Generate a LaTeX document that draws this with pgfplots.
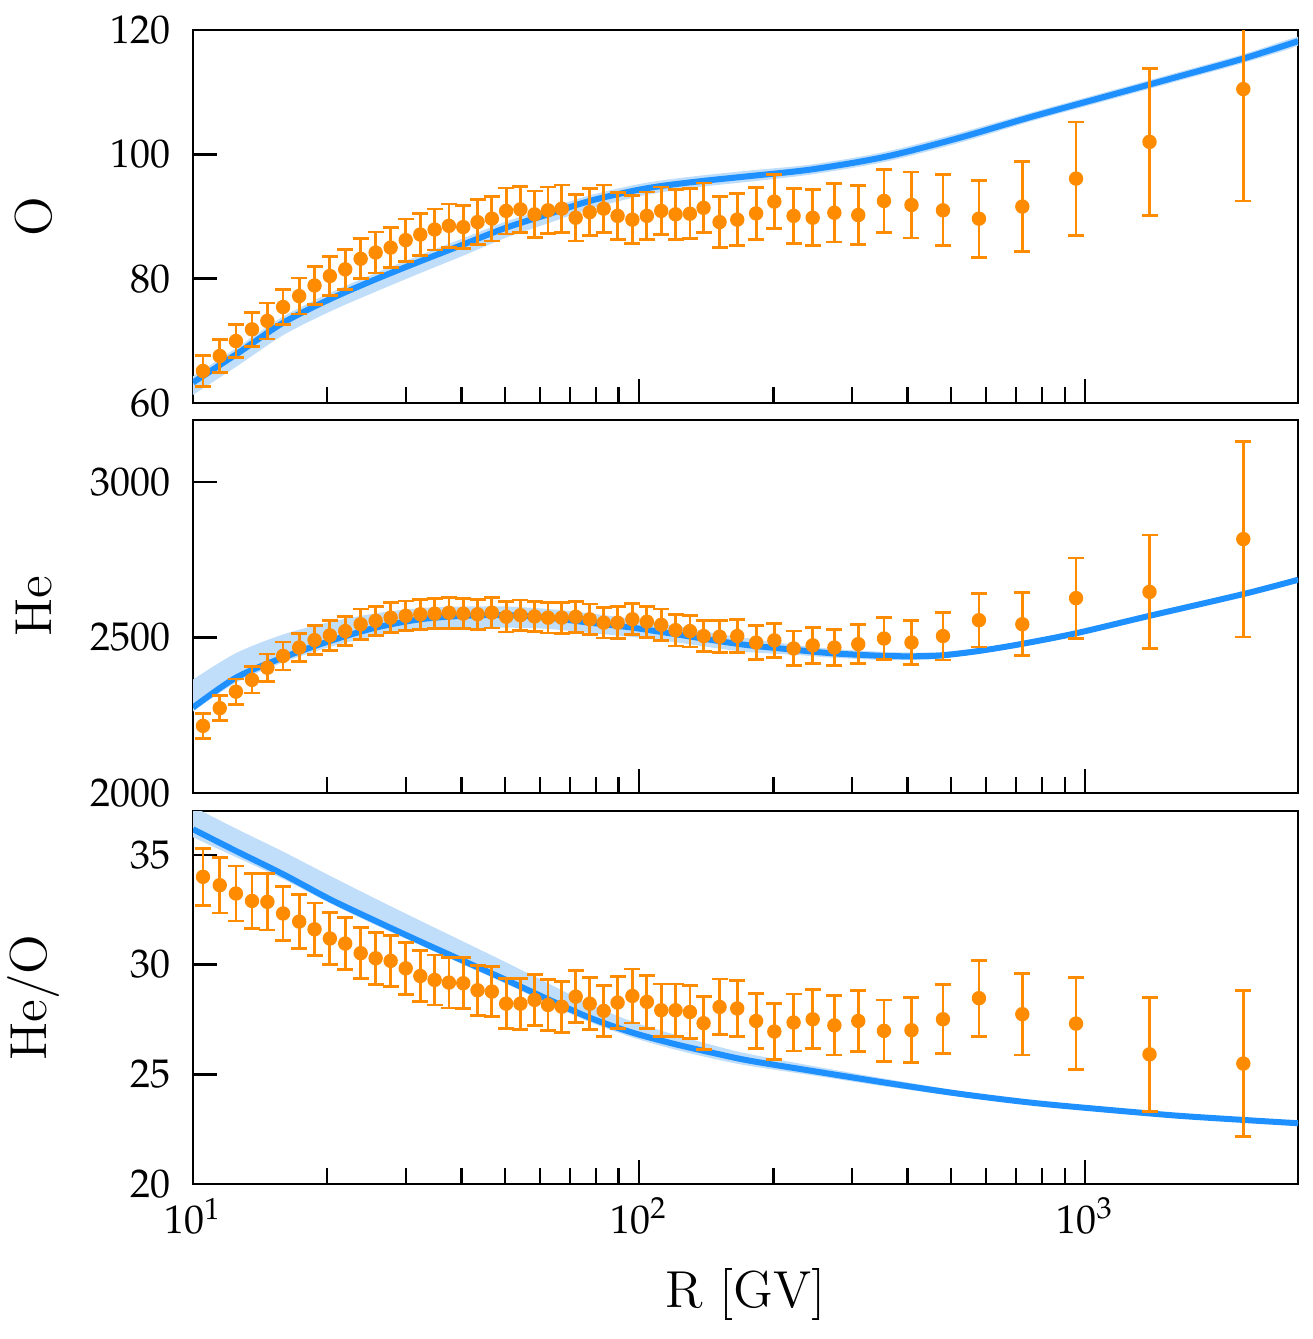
\documentclass[border=0pt]{standalone}
\usepackage{mathpazo}
\usepackage{pgfplots}
\usepackage{pgfplotstable}
\pgfplotsset{compat=1.18}
\definecolor{dblue}{RGB}{30,144,255}
\definecolor{dorange}{RGB}{255,140,0}
\definecolor{bandc}{RGB}{192,222,250}

\pgfplotstableread{
R O eO He eHe HeO eHeO
10.53 65.15 2.5 2216 40 34.00 1.30
11.48 67.56 2.6 2273 41 33.62 1.27
12.48 69.97 2.7 2326 41 33.24 1.25
13.56 71.85 2.7 2364 42 32.90 1.25
14.68 73.2 2.9 2403 44 32.86 1.28
15.92 75.44 2.8 2441 45 32.33 1.23
17.30 77.2 2.9 2468 46 31.96 1.22
18.73 78.9 3.0 2492 47 31.61 1.20
20.27 80.43 3.2 2507 48 31.19 1.20
21.94 81.5 3.2 2521 47 30.96 1.18
23.76 83.2 3.2 2543 49 30.52 1.17
25.67 84.2 3.3 2554 47 30.29 1.18
27.74 85.0 3.2 2564 48 30.17 1.17
29.98 86.2 3.4 2570 48 29.83 1.18
32.33 87.1 3.4 2575 48 29.48 1.16
34.81 87.9 3.3 2577 48 29.30 1.14
37.48 88.5 3.5 2580 50 29.18 1.16
40.35 88.3 3.5 2577 48 29.15 1.16
43.44 89.1 3.6 2575 48 28.83 1.14
46.77 89.65 3.6 2580 49 28.77 1.14
50.35 90.9 3.7 2567 49 28.22 1.14
54.2 91.15 3.7 2572 49 28.22 1.16
58.3 90.35 3.75 2568 49 28.39 1.16
62.5 91.0 3.75 2564 49 28.16 1.16
67.1 91.26 3.8 2564 50 28.08 1.16
72.1 89.8 3.75 2567 50 28.54 1.19
77.5 90.7 3.75 2559 49 28.22 1.19
83.3 91.26 3.8 2548 49 27.89 1.15
89.5 90.1 3.8 2548 51 28.27 1.18
96.6 89.5 3.85 2559 50 28.57 1.23
104.1 90.1 3.85 2551 50 28.30 1.22
112.1 90.9 3.85 2541 51 27.92 1.20
120.7 90.35 4.0 2524 51 27.92 1.20
130.0 90.45 4.0 2521 51 27.84 1.22
139.5 91.4 4.0 2505 50 27.33 1.20
151.5 89.1 4.1 2503 51 28.07 1.27
166 89.5 4.15 2505 52 28.0 1.28
183 90.5 4.2 2484 54 27.43 1.27
201 92.4 4.3 2491 54 26.95 1.27
222 90.1 4.4 2465 56 27.36 1.30
245 89.8 4.5 2475 58 27.51 1.34
274 90.6 4.7 2468 59 27.23 1.35
310 90.24 4.8 2479 62 27.43 1.39
354 92.5 5.1 2497 67 26.98 1.41
408 91.85 5.3 2484 70 27.01 1.48
480 91.0 5.7 2505 77 27.51 1.57
578 89.65 6.2 2556 86 28.47 1.73
723 91.6 7.2 2543 101 27.74 1.86
954 96.1 9.1 2627 129 27.31 2.09
1394 102.0 11.8 2647 183 25.91 2.60
2262 110.5 18.0 2817 315 25.49 3.34
}\datatab

\pgfplotstableread{
R mid
10 63.3
12.48 67.8
15.92 72.9
20.27 76.7
25.67 79.9
32.33 82.8
40.35 85.5
50.35 88.2
62.5 90.35
77.5 92.5
96.6 94.1
112 94.9
138 95.7
177 96.5
245 97.6
356 99.6
519 102.6
755 106.0
1098 109.2
1597 112.4
2262 115.4
3000 118.2
}\otab

\pgfplotstableread{
R mid
10 2275
12.48 2371
15.92 2436
20.27 2489
25.67 2532
32.33 2559
40.35 2570
50.35 2572
62.5 2564
77.5 2548
96.6 2532
120.7 2511
150.6 2489
177 2475
222 2461
274 2449
356 2441
420 2440
479 2443
578 2457
723 2480
954 2514
1394 2570
2262 2640
3000 2686
}\hetab

\pgfplotstableread{
R mid
10 36.17
12.48 35.18
15.92 34.12
20.27 32.98
25.67 31.99
32.33 31.05
40.35 30.17
50.35 29.30
62.5 28.42
77.5 27.58
96.6 26.90
120.7 26.37
150.6 25.92
177 25.62
245 25.15
356 24.62
519 24.12
755 23.71
1098 23.40
1597 23.12
2262 22.92
3000 22.77
}\hotab

\pgfplotsset{
  mypanel/.style={
    xmin=10, xmax=3000,
    scale only axis, width=276.25pt, height=93.25pt,
    axis line style={line width=0.7pt},
    tick align=inside, xtick pos=bottom, ytick pos=left,
    xtick={10,100,1000},
    major tick length=6pt, minor tick length=4pt,
    every tick/.style={black, line width=0.6pt},
    tick label style={font=\fontsize{10}{12}\selectfont},
    yticklabel style={xshift=-2pt, /pgf/number format/.cd, 1000 sep={}},
    label style={font=\fontsize{13}{15}\selectfont},
    ylabel style={at={(axis description cs:-0.144,0.5)}, anchor=center},
  },
  pts/.style={only marks, mark=*, mark size=1.6pt, color=dorange,
    error bars/.cd, y dir=both, y explicit,
    error bar style={line width=0.7pt, dorange},
    error mark options={rotate=90, mark size=2pt, line width=0.7pt, dorange}},
  model/.style={dblue, line width=1.5pt, no marks, smooth},
}

\begin{document}
\begin{tikzpicture}
\useasboundingbox (-48.25pt,7.5pt) rectangle (280pt,-327.25pt);
\begin{semilogxaxis}[mypanel, name=p1, at={(0,0)}, anchor=north west,
  ymin=60, ymax=120, ytick={60,80,100,120}, xticklabels={}, ylabel={O}]
  \addplot[fill=bandc, draw=none, smooth] coordinates {(10,64.3)(12.48,68.8)(15.92,73.9)(20.27,77.7)(25.67,80.9)(32.33,83.8)(40.35,86.5)(50.35,89.2)(62.5,91.3)(77.5,93.4)(96.6,95.0)(112,95.8)(138,96.6)(177,97.4)(245,98.4)(356,100.4)(519,103.4)(755,106.7)(1098,109.9)(1597,113.1)(2262,116.1)(3000,118.9)
  (3000,117.5)(2262,114.7)(1597,111.7)(1098,108.5)(755,105.3)(519,101.8)(356,98.8)(245,96.8)(177,95.6)(138,94.8)(112,93.9)(96.6,93.0)(77.5,91.2)(62.5,88.9)(50.35,86.6)(40.35,83.7)(32.33,80.9)(25.67,77.9)(20.27,74.7)(15.92,70.9)(12.48,65.8)(10,61.3)};
  \addplot[model] table[x=R,y=mid]{\otab};
  \addplot[pts] table[x=R,y=O,y error=eO]{\datatab};
\end{semilogxaxis}
\begin{semilogxaxis}[mypanel, name=p2, at={(0,-97.5pt)}, anchor=north west,
  ymin=2000, ymax=3200, ytick={2000,2500,3000}, xticklabels={}, ylabel={He}]
  \addplot[fill=bandc, draw=none, smooth] coordinates {(10,2365)(12.48,2450)(15.92,2510)(20.27,2550)(25.67,2578)(32.33,2595)(40.35,2600)(50.35,2600)(62.5,2592)(77.5,2578)(96.6,2560)(120.7,2538)(150.6,2512)(177,2497)(222,2477)(274,2463)(356,2454)(420,2452)(479,2454)(578,2466)(723,2487)(954,2520)(1394,2576)(2262,2646)(3000,2692)
  (3000,2680)(2262,2634)(1394,2564)(954,2508)(723,2473)(578,2449)(479,2433)(420,2428)(356,2428)(274,2435)(222,2445)(177,2453)(150.6,2465)(120.7,2485)(96.6,2502)(77.5,2515)(62.5,2528)(50.35,2532)(40.35,2530)(32.33,2525)(25.67,2505)(20.27,2470)(15.92,2420)(12.48,2355)(10,2262)};
  \addplot[model] table[x=R,y=mid]{\hetab};
  \addplot[pts] table[x=R,y=He,y error=eHe]{\datatab};
\end{semilogxaxis}
\begin{semilogxaxis}[mypanel, name=p3, at={(0,-195.25pt)}, anchor=north west,
  ymin=20, ymax=37, ytick={20,25,30,35}, ylabel={He/O},
  xlabel={R [GV]},
  xlabel style={at={(axis description cs:0.5,0)}, anchor=center, yshift=-27.5pt}]
  \addplot[fill=bandc, draw=none, smooth] coordinates {(10,37.2)(12.48,36.2)(15.92,35.15)(20.27,34.05)(25.67,33.0)(32.33,32.0)(40.35,31.05)(50.35,30.1)(62.5,29.15)(77.5,28.2)(96.6,27.4)(120.7,26.8)(150.6,26.26)(177,25.92)(245,25.38)(356,24.8)(519,24.25)(755,23.8)(1098,23.46)(1597,23.17)(2262,22.97)(3000,22.82)
  (3000,22.72)(2262,22.87)(1597,23.07)(1098,23.34)(755,23.62)(519,23.99)(356,24.45)(245,24.95)(177,25.38)(150.6,25.66)(120.7,26.12)(96.6,26.68)(77.5,27.38)(62.5,28.22)(50.35,29.12)(40.35,30.0)(32.33,30.88)(25.67,31.8)(20.27,32.8)(15.92,33.9)(12.48,34.9)(10,35.8)};
  \addplot[model] table[x=R,y=mid]{\hotab};
  \addplot[pts] table[x=R,y=HeO,y error=eHeO]{\datatab};
\end{semilogxaxis}
\end{tikzpicture}
\end{document}
